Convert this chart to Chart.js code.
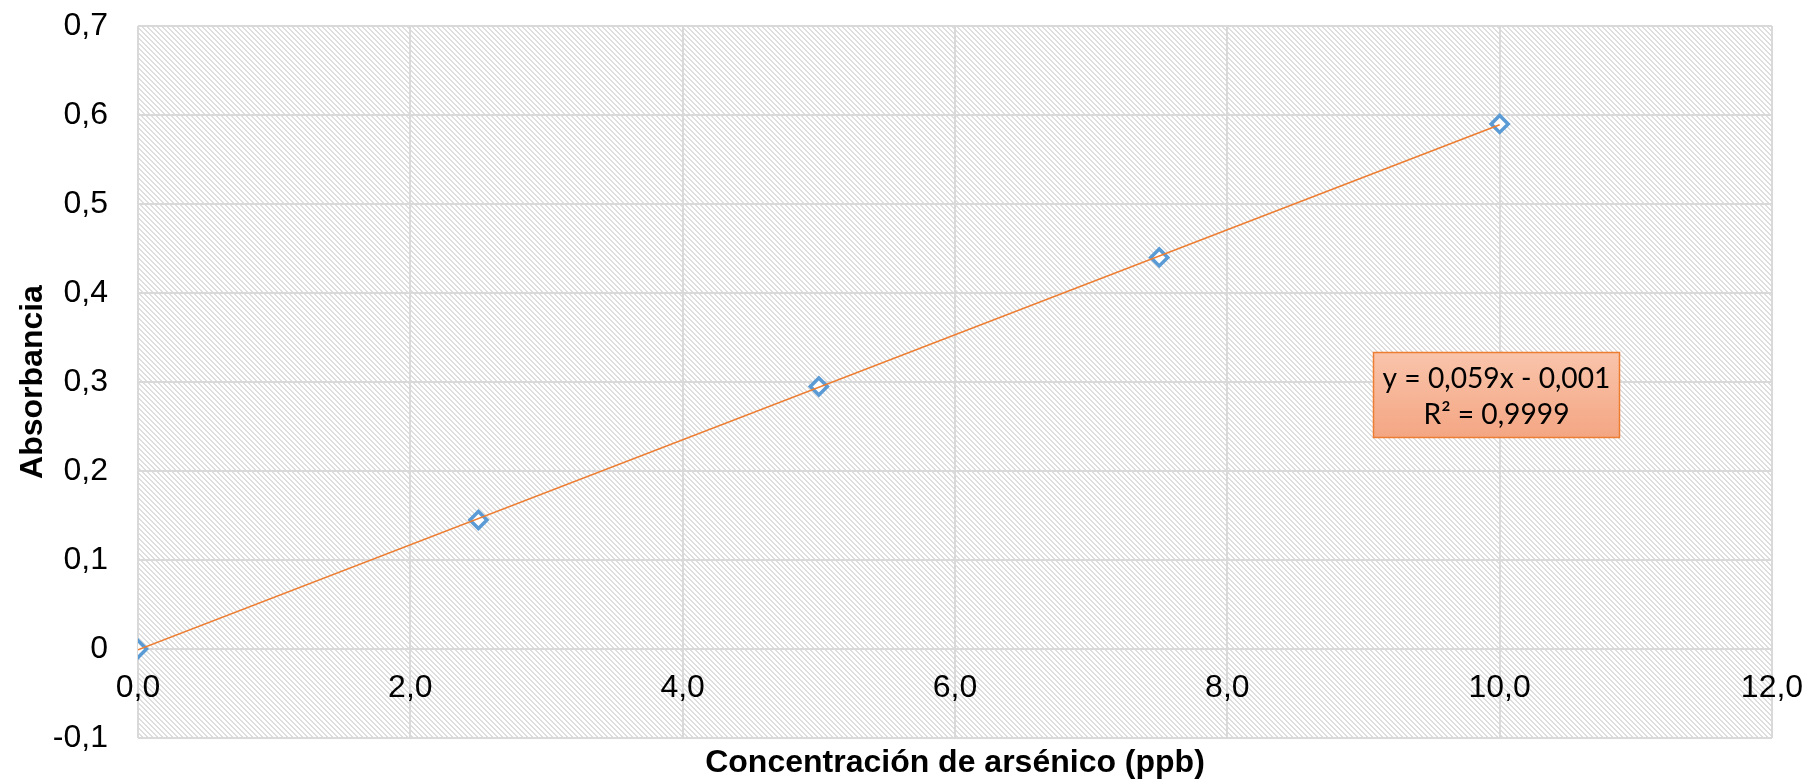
<!DOCTYPE html>
<html>
<head>
<meta charset="utf-8">
<script src="https://cdn.jsdelivr.net/npm/chart.js@4.4.1/dist/chart.umd.min.js"></script>
<style>
    html, body { margin: 0; padding: 0; background: #fff; }
    #wrap { width: 1818px; height: 782px; }
</style>
</head>
<body>
<div id="wrap"><canvas id="curva"></canvas></div>
<script>
// Curva de calibración - arsénico
const concentraciones = [0, 2.5, 5, 7.5, 10];
const absorbancias = [0, 0.145, 0.295, 0.44, 0.59];

// Línea de tendencia (extremos)
const tendenciaX = [0, 10];
const tendenciaY = [-0.001, 0.589];

// Marcas de los ejes
const ticksX = [0, 2, 4, 6, 8, 10, 12];
const ticksY = [-0.1, 0, 0.1, 0.2, 0.3, 0.4, 0.5, 0.6, 0.7];

// Texto de la ecuación
const ecuacion = ["y = 0,059x - 0,001", "R² = 0,9999"];

const coma = v => v.toFixed(1).replace(".", ",");

// Fondo rayado del área del gráfico
function hacerRayado() {
    const p = document.createElement("canvas");
    p.width = 5; p.height = 5;
    const c = p.getContext("2d");
    c.fillStyle = "#ffffff";
    c.fillRect(0, 0, 5, 5);
    c.fillStyle = "#dedede";
    for (let y = 0; y < 5; y++) {
        for (let x = 0; x < 5; x++) {
            const d = ((x - y) % 5 + 5) % 5;
            if (d === 0 || d === 1) c.fillRect(x, y, 1, 1);
        }
    }
    return p;
}

const fondoRayado = {
    id: "fondoRayado",
    beforeDraw(chart) {
        const { ctx, chartArea: a } = chart;
        ctx.save();
        ctx.fillStyle = ctx.createPattern(hacerRayado(), "repeat");
        ctx.fillRect(a.left, a.top, a.right - a.left, a.bottom - a.top);
        ctx.restore();
    }
};

// Cuadro con la ecuación de la recta
const cuadroEcuacion = {
    id: "cuadroEcuacion",
    afterDatasetsDraw(chart) {
        const { ctx, scales: { x, y } } = chart;
        const x1 = Math.round(x.getPixelForValue(9.07)) + 0.5;
        const x2 = Math.round(x.getPixelForValue(10.88)) + 0.5;
        const y1 = Math.round(y.getPixelForValue(0.334)) + 0.5;
        const y2 = Math.round(y.getPixelForValue(0.238)) + 0.5;
        ctx.save();
        const g = ctx.createLinearGradient(0, y1, 0, y2);
        g.addColorStop(0, "#f9c4ab");
        g.addColorStop(1, "#f4a683");
        ctx.fillStyle = g;
        ctx.fillRect(x1, y1, x2 - x1, y2 - y1);
        ctx.strokeStyle = "#ed7d31";
        ctx.lineWidth = 1.5;
        ctx.strokeRect(x1, y1, x2 - x1, y2 - y1);

        // ajustar el tamaño para que la primera línea ocupe ~228 px
        let size = 28;
        ctx.font = size + "px Lato";
        size = size * 228 / ctx.measureText(ecuacion[0]).width;
        ctx.font = size + "px Lato";
        ctx.fillStyle = "#000";
        ctx.textAlign = "center";
        ctx.textBaseline = "middle";
        const cx = (x1 + x2) / 2;
        ctx.fillText(ecuacion[0], cx, y1 + 26);
        ctx.fillText(ecuacion[1], cx, y1 + 62);
        ctx.restore();
    }
};

new Chart(document.getElementById("curva"), {
    type: "scatter",
    data: {
        datasets: [
            {
                label: "Lineal",
                data: tendenciaX.map((v, i) => ({ x: v, y: tendenciaY[i] })),
                showLine: true,
                borderColor: "#ed7d31",
                borderWidth: 1.5,
                pointRadius: 0,
                order: 0,
            },
            {
                label: "Absorbancia",
                data: concentraciones.map((v, i) => ({ x: v, y: absorbancias[i] })),
                pointStyle: "rectRot",
                pointRadius: 8.5,
                pointBorderWidth: 3.5,
                pointBorderColor: "#5b9bd5",
                pointBackgroundColor: "#ffffff",
                showLine: false,
                order: 1,
            },
        ],
    },
    options: {
        responsive: true,
        maintainAspectRatio: false,
        devicePixelRatio: 1,
        animation: false,
        layout: { padding: { top: 26, right: 46, left: 0, bottom: 0 } },
        plugins: {
            legend: { display: false },
            tooltip: { enabled: false },
        },
        scales: {
            x: {
                type: "linear",
                position: { y: 0 },
                min: 0,
                max: 12,
                afterBuildTicks: s => { s.ticks = ticksX.map(v => ({ value: v })); },
                grid: { color: "#d9d9d9", lineWidth: 2, drawTicks: false },
                border: { display: false },
                ticks: {
                    autoSkip: false,
                    maxRotation: 0,
                    padding: 20,
                    color: "#000",
                    font: { family: "'Liberation Sans', Arial", size: 32 },
                    callback: v => coma(v),
                },
                afterFit: s => {
                    s.paddingLeft = 0;
                    s.paddingRight = 0;
                },
            },
            x2: {
                type: "linear",
                position: "bottom",
                min: 0,
                max: 12,
                grid: { display: false, drawTicks: false },
                border: { display: false },
                ticks: { display: false },
                title: {
                    display: true,
                    text: "Concentración de arsénico (ppb)",
                    color: "#000",
                    font: { family: "'Liberation Sans', Arial", size: 32, weight: "bold" },
                    padding: { top: 2, bottom: 0 },
                },
                afterFit: s => {
                    s.height = 44;
                    s.paddingLeft = 0;
                    s.paddingRight = 0;
                },
            },
            y: {
                type: "linear",
                min: -0.1,
                max: 0.7,
                afterBuildTicks: s => { s.ticks = ticksY.map(v => ({ value: v })); },
                grid: { color: "#d9d9d9", lineWidth: 2, drawTicks: false },
                border: { display: false },
                ticks: {
                    autoSkip: false,
                    padding: 30,
                    color: "#000",
                    font: { family: "'Liberation Sans', Arial", size: 32 },
                    callback: v => (Math.abs(v) < 1e-9 ? "0" : coma(v)),
                },
                title: {
                    display: true,
                    text: "Absorbancia",
                    color: "#000",
                    font: { family: "'Liberation Sans', Arial", size: 32, weight: "bold" },
                    padding: { top: 14, bottom: 6 },
                },
                afterFit: s => {
                    s.width = 138;
                    s.paddingTop = 0;
                    s.paddingBottom = 0;
                },
            },
        },
    },
    plugins: [fondoRayado, cuadroEcuacion],
});
</script>
</body>
</html>
